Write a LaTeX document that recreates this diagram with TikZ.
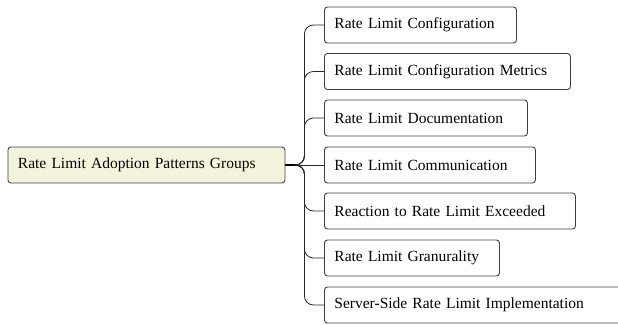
\documentclass[tikz,border=0pt]{standalone}
\usepackage{fontspec}
\setmainfont{Liberation Serif}
\usetikzlibrary{calc}
\definecolor{rootfill}{HTML}{F4F4DC}
\tikzset{
  box/.style={draw=black!75, line width=0.9pt, rounded corners=3pt, minimum height=36pt, anchor=west,
    inner xsep=10pt, align=left, font=\fontsize{15.5}{18}\selectfont, fill=white},
  rootbox/.style={box, fill=rootfill},
  link/.style={draw=black!85, line width=0.8pt, rounded corners=9pt},
}
\begin{document}
\begin{tikzpicture}[x=1pt,y=-1pt]
\useasboundingbox (0,0) rectangle (618,324);
\clip (0,0) rectangle (618,324);
\node[rootbox, text width=257pt] (root) at (7.5,165) {Rate Limit Adoption Patterns Groups};
\node[box, text width=172pt] (c1) at (324,25) {Rate Limit Configuration};
\node[box, text width=226pt] (c2) at (324,71.5) {Rate Limit Configuration Metrics};
\node[box, text width=183pt] (c3) at (324,118) {Rate Limit Documentation};
\node[box, text width=191pt] (c4) at (324,165) {Rate Limit Communication};
\node[box, text width=231pt] (c5) at (324,211) {Reaction to Rate Limit Exceeded};
\node[box, text width=155pt] (c6) at (324,258) {Rate Limit Granurality};
\node[box, text width=300pt] (c7) at (324,305) {Server-Side Rate Limit Implementation};
\draw[line width=2pt] (root.east) -- ++(12,0) coordinate (j);
\foreach \c in {c1,c2,c3,c5,c6,c7}{
  \draw[link] (j) -- ($(j)+(7,0)$) |- (\c.west);
}
\draw[link] (j) -- (c4.west);
\end{tikzpicture}
\end{document}
